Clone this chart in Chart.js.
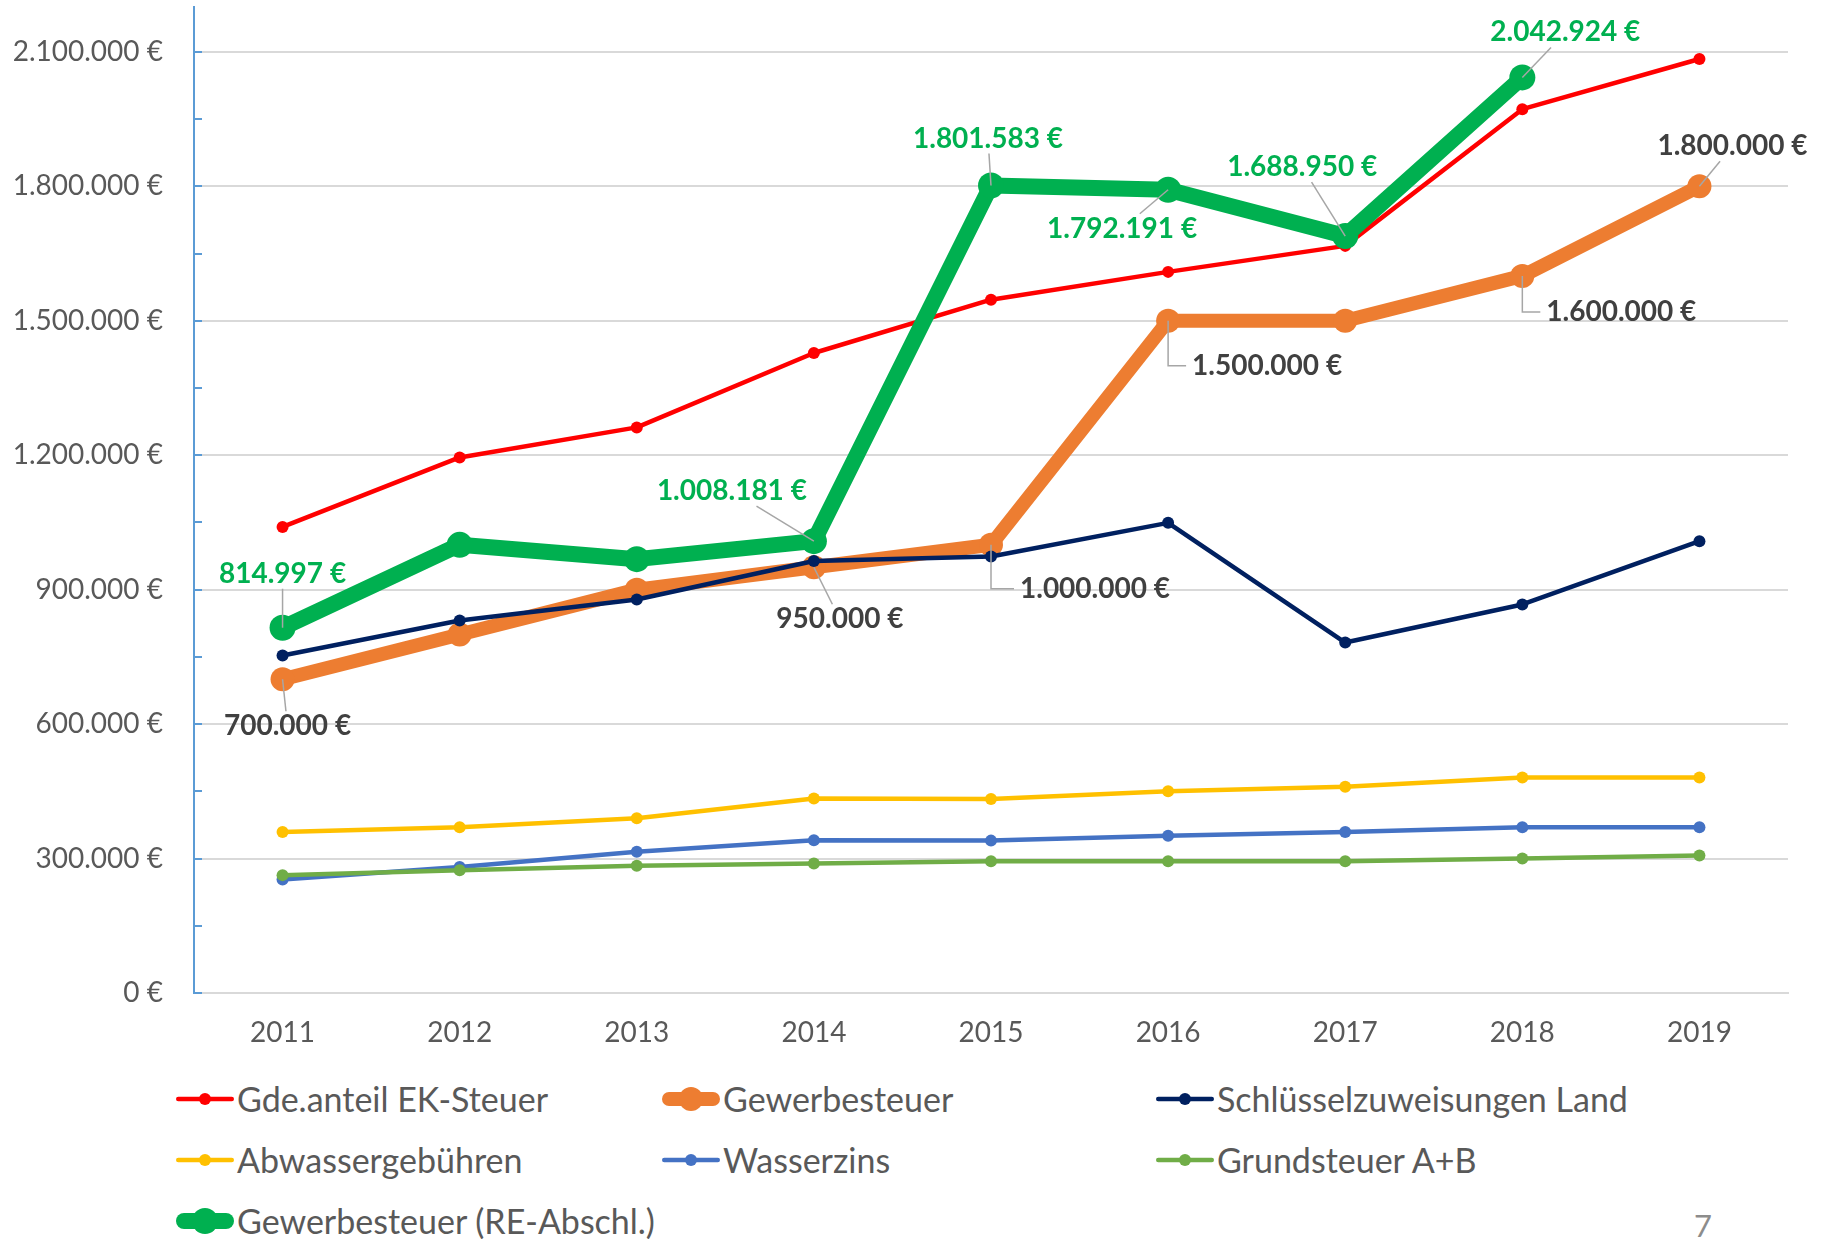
<!DOCTYPE html>
<html lang="de">
<head>
  <meta charset="UTF-8" />
  <title>Einnahmen 2011-2019</title>
  <script src="https://cdn.jsdelivr.net/npm/chart.js"></script>
  <style>
    body {
      margin: 0;
      background: #fff;
      font-family: Lato, sans-serif;
    }
    #wrap {
      position: relative;
      width: 1824px;
      height: 1239px;
      overflow: hidden;
    }
    #chart {
      position: absolute;
      left: 0;
      top: -6px;
    }
    #legend {
      position: absolute;
      left: 175px;
      top: 1068px;
      display: grid;
      grid-template-columns: 486px 494px 500px;
      grid-auto-rows: 61px;
      align-items: center;
      font-size: 34px;
      color: #595959;
    }
    .item {
      display: flex;
      align-items: center;
      white-space: nowrap;
    }
    .item svg {
      margin-right: 2px;
    }
    #page {
      position: absolute;
      left: 1694px;
      top: 1206px;
      font-size: 31px;
      color: #8c8c8c;
    }
  </style>
</head>
<body>
<div id="wrap">
  <canvas id="chart" width="1824" height="1071"></canvas>
  <div id="legend"></div>
  <div id="page">7</div>
</div>

<script>
  const years = ['2011', '2012', '2013', '2014', '2015', '2016', '2017', '2018', '2019'];

  const ekSteuer    = [1040000, 1195000, 1262000, 1428000, 1547000, 1609000, 1667000, 1972000, 2084000];
  const gewerbe     = [700000, 800000, 900000, 950000, 1000000, 1500000, 1500000, 1600000, 1800000];
  const schluessel  = [753000, 831000, 878000, 964000, 974000, 1049000, 782000, 867000, 1008000];
  const abwasser    = [359000, 370000, 390000, 434000, 433000, 450000, 460000, 481000, 481000];
  const wasserzins  = [253000, 281000, 315000, 341000, 340000, 351000, 359000, 370000, 370000];
  const grundsteuer = [263000, 274000, 284000, 289000, 294000, 294000, 294000, 300000, 307000];
  const gewerbeRE   = [814997, 1000000, 968000, 1008181, 1801583, 1792191, 1688950, 2042924, null];

  // y axis: labelled every 300.000, minor ticks every 150.000
  const yMax = 2200000;
  const yTop = 2100000;
  const yMajor = 300000;
  const yMinor = 150000;

  // which points get a value label: [index, dx, dy, elbow leader]
  const greenLabels = [[0, 0, -54], [3, -82, -50], [4, -3, -47], [5, -46, 39], [6, -43, -69], [7, 43, -45]];
  const orangeLabels = [[0, 5, 47], [3, 26, 52], [4, 104, 44, true], [5, 99, 45, true], [7, 99, 36, true], [8, 33, -40]];

  function euro(v) {
    return String(Math.round(v)).replace(/\B(?=(\d{3})+(?!\d))/g, '.') + ' €';
  }

  function thin(label, data, color, order) {
    return {
      label, data, order,
      borderColor: color,
      backgroundColor: color,
      borderWidth: 4.5,
      pointRadius: 6,
      pointHoverRadius: 6,
      pointBorderWidth: 0,
      borderJoinStyle: 'round',
      borderCapStyle: 'round'
    };
  }

  function thick(label, data, color, order, width, radius) {
    return {
      label, data, order,
      borderColor: color,
      backgroundColor: color,
      borderWidth: width,
      pointRadius: radius,
      pointHoverRadius: radius,
      pointBorderWidth: 0,
      borderJoinStyle: 'round',
      borderCapStyle: 'round'
    };
  }

  const datasets = [
    thin('Gde.anteil EK-Steuer', ekSteuer, '#ff0000', 6),
    Object.assign(thick('Gewerbesteuer', gewerbe, '#ed7d31', 5, 14, 12),
      { labelAt: orangeLabels, labelColor: '#404040' }),
    thin('Schlüsselzuweisungen Land', schluessel, '#002060', 1),
    thin('Abwassergebühren', abwasser, '#ffc000', 4),
    thin('Wasserzins', wasserzins, '#4472c4', 3),
    thin('Grundsteuer A+B', grundsteuer, '#70ad47', 2),
    Object.assign(thick('Gewerbesteuer (RE-Abschl.)', gewerbeRE, '#00b050', 0, 16, 13),
      { labelAt: greenLabels, labelColor: '#00b050' })
  ];

  // value labels with grey leader lines
  const valueLabels = {
    id: 'valueLabels',
    afterDatasetsDraw(chart) {
      const ctx = chart.ctx;
      ctx.save();
      ctx.font = 'bold 28px Lato';
      ctx.textAlign = 'center';
      ctx.textBaseline = 'middle';
      chart.data.datasets.forEach((ds, di) => {
        if (!ds.labelAt) return;
        const meta = chart.getDatasetMeta(di);
        ds.labelAt.forEach(([i, dx, dy, elbow]) => {
          const pt = meta.data[i];
          const text = euro(ds.data[i]);
          const cx = pt.x + dx, cy = pt.y + dy;
          const w = ctx.measureText(text).width, h = 22;
          ctx.strokeStyle = '#a6a6a6';
          ctx.lineWidth = 1.5;
          ctx.beginPath();
          if (elbow) {
            ctx.moveTo(pt.x, pt.y);
            ctx.lineTo(pt.x, cy);
            ctx.lineTo(cx - w / 2 - 6, cy);
          } else {
            // aim at the label centre, stop at the label box
            const hw = w / 2 + 4, hh = h / 2 + 4;
            const s = Math.min(dx ? hw / Math.abs(dx) : Infinity, dy ? hh / Math.abs(dy) : Infinity);
            if (s < 1) {
              ctx.moveTo(pt.x, pt.y);
              ctx.lineTo(pt.x + dx * (1 - s), pt.y + dy * (1 - s));
            }
          }
          ctx.stroke();
          ctx.fillStyle = ds.labelColor;
          ctx.fillText(text, cx, cy);
        });
      });
      ctx.restore();
    }
  };

  // small tick marks on the inner side of the y axis
  const innerTicks = {
    id: 'innerTicks',
    afterDraw(chart) {
      const y = chart.scales.y, ctx = chart.ctx;
      ctx.save();
      ctx.strokeStyle = '#5b9bd5';
      ctx.lineWidth = 2;
      y.ticks.forEach(t => {
        const py = Math.round(y.getPixelForValue(t.value));
        ctx.beginPath();
        ctx.moveTo(y.right, py);
        ctx.lineTo(y.right + 8, py);
        ctx.stroke();
      });
      ctx.restore();
    }
  };

  Chart.defaults.font.family = 'Lato';
  Chart.defaults.color = '#595959';

  const chart = new Chart(document.getElementById('chart'), {
    type: 'line',
    data: { labels: years, datasets },
    options: {
      responsive: false,
      animation: false,
      layout: { padding: { top: 2, right: 36, left: 0, bottom: 0 } },
      plugins: { legend: { display: false }, tooltip: { enabled: false } },
      scales: {
        x: {
          offset: true,
          grid: { display: false, drawTicks: false },
          border: { display: true, color: '#d9d9d9', width: 2 },
          ticks: { font: { size: 28 }, color: '#595959', padding: 23, maxRotation: 0 },
          afterFit: s => { s.height = 1071 - 999; }
        },
        y: {
          min: 0,
          max: yMax,
          afterBuildTicks: s => {
            const t = [];
            for (let v = 0; v <= yTop; v += yMinor) t.push({ value: v });
            s.ticks = t;
          },
          afterFit: s => {
            s.width = 194;
            s.paddingTop = 0;
            s.paddingBottom = 0;
          },
          grid: {
            drawTicks: false,
            lineWidth: 2,
            color: c => (c.tick && c.tick.value % yMajor === 0) ? '#d9d9d9' : 'rgba(0,0,0,0)'
          },
          border: { display: true, color: '#5b9bd5', width: 2 },
          ticks: {
            font: { size: 28 },
            color: '#595959',
            padding: 31,
            callback: v => v % yMajor === 0 ? euro(v) : ''
          }
        }
      }
    },
    plugins: [valueLabels, innerTicks]
  });

  // legend in three columns, same order as the series
  const legend = document.getElementById('legend');
  datasets.forEach(ds => {
    const item = document.createElement('div');
    item.className = 'item';
    const lw = ds.borderWidth, r = ds.pointRadius;
    item.innerHTML =
      '<svg width="60" height="30" viewBox="0 0 60 30">' +
      '<line x1="' + (lw / 2 + 1) + '" y1="15" x2="' + (59 - lw / 2) + '" y2="15" stroke="' + ds.borderColor +
      '" stroke-width="' + lw + '" stroke-linecap="round"/>' +
      '<circle cx="30" cy="15" r="' + r + '" fill="' + ds.borderColor + '"/></svg>' +
      '<span>' + ds.label + '</span>';
    legend.appendChild(item);
  });
</script>
</body>
</html>
